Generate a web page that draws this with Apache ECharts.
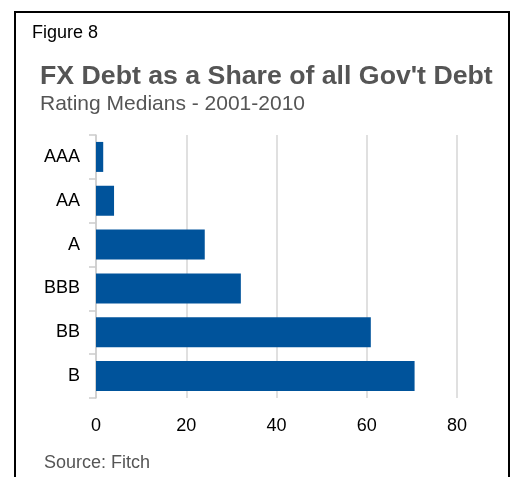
<!DOCTYPE html>
<html><head><meta charset="utf-8">
<script src="https://cdn.jsdelivr.net/npm/echarts@6/dist/echarts.min.js"></script>
<style>html,body{margin:0;padding:0;background:#fff}#c{width:513px;height:477px}</style>
</head><body><div id="c"></div>
<script>
const categories = ['AAA', 'AA', 'A', 'BBB', 'BB', 'B'];
const values = [1.6, 4.0, 24.1, 32.1, 60.9, 70.6];
const xTicks = [0, 20, 40, 60, 80];

const chart = echarts.init(document.getElementById('c'), null, {renderer: 'canvas'});
chart.setOption({
  backgroundColor: '#fff',
  animation: false,
  textStyle: {fontFamily: 'Liberation Sans, Arial, sans-serif'},
  graphic: [
    {type: 'rect', shape: {x: 15, y: 12, width: 494, height: 480}, style: {fill: 'none', stroke: '#000', lineWidth: 2}},
    {type: 'text', left: 32, top: 24, style: {text: 'Figure 8', fontSize: 18, fill: '#000', fontFamily: 'Liberation Sans, Arial, sans-serif'}},
    {type: 'text', left: 40, top: 63, style: {text: "FX Debt as a Share of all Gov't Debt", fontSize: 26.7, fontWeight: 'bold', fill: '#555', fontFamily: 'Liberation Sans, Arial, sans-serif'}},
    {type: 'text', left: 40, top: 94, style: {text: 'Rating Medians - 2001-2010', fontSize: 21, fill: '#555', fontFamily: 'Liberation Sans, Arial, sans-serif'}},
    {type: 'text', left: 44, top: 454, style: {text: 'Source: Fitch', fontSize: 18, fill: '#555', fontFamily: 'Liberation Sans, Arial, sans-serif'}}
  ],
  grid: {left: 96, top: 135, right: 56, bottom: 79, containLabel: false},
  xAxis: {
    type: 'value', min: 0, max: 80, interval: 20,
    axisLine: {show: false}, axisTick: {show: false},
    splitLine: {show: true, lineStyle: {color: '#d6d6d6', width: 1.5}},
    axisLabel: {margin: 19, fontSize: 18, color: '#000',
      formatter: v => xTicks.includes(v) ? String(v) : ''}
  },
  yAxis: {
    type: 'category', data: categories, inverse: true,
    axisLine: {show: true, lineStyle: {color: '#cccccc', width: 1.5}},
    axisTick: {show: true, length: 7, lineStyle: {color: '#cccccc', width: 1.5}},
    axisLabel: {margin: 16, fontSize: 18, color: '#000'}
  },
  series: [{
    type: 'bar', data: values, barWidth: 30,
    itemStyle: {color: '#00539B'}
  }]
});
</script></body></html>
